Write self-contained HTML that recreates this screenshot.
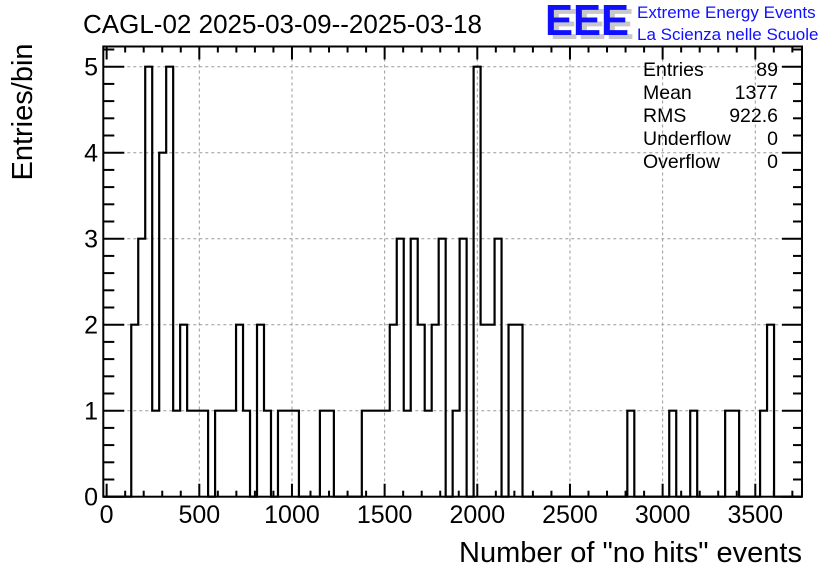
<!DOCTYPE html>
<html><head><meta charset="utf-8"><style>
body{margin:0;background:#fff;}
svg{display:block;font-family:"Liberation Sans",Arial,sans-serif;}
</style></head><body>
<svg id="chart" width="836" height="572" viewBox="0 0 836 572" xmlns="http://www.w3.org/2000/svg">
<rect x="0" y="0" width="836" height="572" fill="#fff"/>
<text x="83" y="33" font-size="26" fill="#000">CAGL-02 2025-03-09--2025-03-18</text>
<g>
<text x="550" y="39" font-size="44" font-weight="bold" fill="#c8c8c8" textLength="84" lengthAdjust="spacingAndGlyphs">EEE</text>
<text x="545" y="35" font-size="44" font-weight="bold" fill="#1010ff" textLength="84" lengthAdjust="spacingAndGlyphs">EEE</text>
<text x="637" y="18" font-size="17" fill="#1010ff">Extreme Energy Events</text>
<text x="637" y="40" font-size="17" fill="#1010ff">La Scienza nelle Scuole</text>
</g>
<g id="grid"></g>
<g id="ticks"></g>
<path id="hist" fill="none" stroke="#000" stroke-width="2.2"/>
<rect x="103.3" y="46.5" width="698.7" height="450.2" fill="none" stroke="#000" stroke-width="2"/>
<g id="labels"></g>
<g font-size="19.5">
<text x="643" y="76">Entries</text><text x="778" y="76" text-anchor="end">89</text>
<text x="643" y="99">Mean</text><text x="778" y="99" text-anchor="end">1377</text>
<text x="643" y="122">RMS</text><text x="778" y="122" text-anchor="end">922.6</text>
<text x="643" y="145">Underflow</text><text x="778" y="145" text-anchor="end">0</text>
<text x="643" y="168">Overflow</text><text x="778" y="168" text-anchor="end">0</text>
</g>
<text x="802" y="562" font-size="29" text-anchor="end">Number of "no hits" events</text>
<text transform="translate(32,112) rotate(-90)" font-size="29" text-anchor="middle">Entries/bin</text>
</svg>
<script>
const binCounts = [0,0,0,0,2,3,5,1,4,5,1,2,1,1,1,0,1,1,1,2,1,0,2,1,0,1,1,1,0,0,0,1,1,0,0,0,0,1,1,1,1,2,3,1,3,2,1,2,3,0,1,3,0,5,2,2,3,0,2,2,0,0,0,0,0,0,0,0,0,0,0,0,0,0,0,1,0,0,0,0,0,1,0,0,1,0,0,0,0,1,1,0,0,0,1,2,0,0,0,0];
const xRange = [-18, 3752];
const yRange = [0, 5.235];
const xTickLabels = [0,500,1000,1500,2000,2500,3000,3500];
const yTickLabels = [0,1,2,3,4,5];

const L=103.3,R=802,T=46.5,B=496.7;
const NS="http://www.w3.org/2000/svg";
function xs(v){return L+(v-xRange[0])/(xRange[1]-xRange[0])*(R-L);}
function ys(v){return B-(v-yRange[0])/(yRange[1]-yRange[0])*(B-T);}
function mk(tag,attrs,parent){const e=document.createElementNS(NS,tag);for(const k in attrs)e.setAttribute(k,attrs[k]);parent.appendChild(e);return e;}

const grid=document.getElementById('grid'),ticks=document.getElementById('ticks'),labels=document.getElementById('labels');
xTickLabels.forEach(v=>{
  const x=xs(v);
  if(v>0){const g=mk('line',{x1:x,x2:x,y1:T,y2:B,stroke:'#999','stroke-dasharray':'3,3','stroke-width':1},grid);
  
  }
  const t=mk('text',{x:x,y:523,'font-size':25,'text-anchor':'middle'},labels);
  t.textContent=v;
  
  
});
for(let v=0;v<=xRange[1];v+=100){
  const x=xs(v),len=(v%500===0)?13:6;
  mk('line',{x1:x,x2:x,y1:B,y2:B-len,stroke:'#000','stroke-width':2},ticks);
  mk('line',{x1:x,x2:x,y1:T,y2:T+len,stroke:'#000','stroke-width':2},ticks);
}
yTickLabels.forEach(v=>{
  const y=ys(v);
  if(v>0){const g=mk('line',{x1:L,x2:R,y1:y,y2:y,stroke:'#999','stroke-dasharray':'3,3','stroke-width':1},grid);
  
  }
  const t=mk('text',{x:98,y:y+9,'font-size':25,'text-anchor':'end'},labels);
  t.textContent=v;
  
  
});
for(let v=0;v<=yRange[1]+1e-9;v+=0.2){
  const y=ys(v),major=Math.abs(v-Math.round(v))<1e-6;
  mk('line',{x1:L,x2:L+(major?21:11),y1:y,y2:y,stroke:'#000','stroke-width':2},ticks);
  mk('line',{x1:R,x2:R-(major?20:9),y1:y,y2:y,stroke:'#000','stroke-width':2},ticks);
}
const n=binCounts.length,w=(xRange[1]-xRange[0])/n;
let d='M'+xs(xRange[0])+','+ys(0);
binCounts.forEach((c,i)=>{
  const x0=xs(xRange[0]+i*w),x1=xs(xRange[0]+(i+1)*w);
  d+=' L'+x0+','+ys(c)+' L'+x1+','+ys(c);
});
d+=' L'+xs(xRange[1])+','+ys(0);
document.getElementById('hist').setAttribute('d',d);
</script>
</body></html>
